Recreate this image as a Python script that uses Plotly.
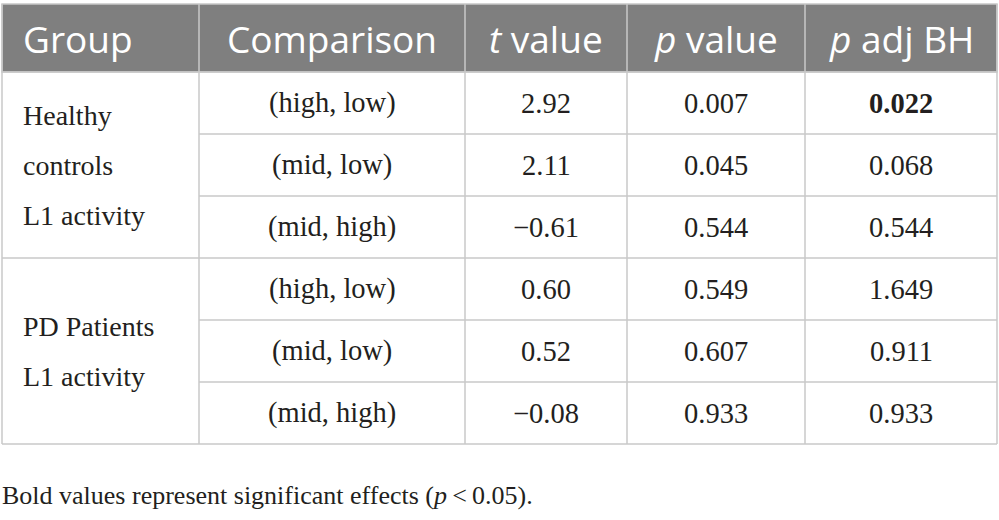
"""Post-hoc comparison table (BH adjusted) drawn with plotly shapes + annotations."""
import plotly.graph_objects as go

# ---- data -------------------------------------------------------------
headers = ["Group", "Comparison", "<i>t</i> value", "<i>p</i> value", "<i>p</i> adj BH"]
groups = [["Healthy", "controls", "L1 activity"], ["PD Patients", "L1 activity"]]
comparisons = ["(high, low)", "(mid, low)", "(mid, high)"]
t_values = [2.92, 2.11, -0.61, 0.60, 0.52, -0.08]
p_values = [0.007, 0.045, 0.544, 0.549, 0.607, 0.933]
p_adj = [0.022, 0.068, 0.544, 1.649, 0.911, 0.933]
caption = "Bold values represent significant effects (<i>p</i>\u2009<\u20090.05)."

# ---- layout constants ---------------------------------------------------
W, H = 999, 520
COL_EDGES = [2, 199, 465, 627, 805, 997]
TOP, HEAD_H, ROW_H = 4, 68, 62
LINE_SP = 50
HEAD_BG = "#7f7f7f"
GRID = "#c8c8c8"
INK = "#231f20"
SANS = "Open Sans"
SERIF = "Liberation Serif"


def fmt(v, nd):
    s = f"{v:.{nd}f}"
    return s.replace("-", "\u2212")


fig = go.Figure()
shapes, ann = [], []
x0, x1 = COL_EDGES[0], COL_EDGES[-1]
body_top = TOP + HEAD_H
n_rows = len(t_values)
body_bot = body_top + n_rows * ROW_H

# header band
shapes.append(dict(type="rect", x0=x0, x1=x1, y0=TOP, y1=body_top,
                   fillcolor=HEAD_BG, line=dict(color=GRID, width=1.5), layer="below"))
# vertical separators
for xe in COL_EDGES:
    shapes.append(dict(type="line", x0=xe, x1=xe, y0=TOP, y1=body_bot,
                       line=dict(color=GRID, width=1.5)))
# horizontal separators (inner rows skip the merged group column)
per = len(comparisons)
for i in range(n_rows + 1):
    y = body_top + i * ROW_H
    start = x0 if i % per == 0 else COL_EDGES[1]
    shapes.append(dict(type="line", x0=start, x1=x1, y0=y, y1=y,
                       line=dict(color=GRID, width=1.5)))

# header text
for j, h in enumerate(headers):
    cx = (COL_EDGES[j] + COL_EDGES[j + 1]) / 2
    ann.append(dict(x=21 if j == 0 else cx, y=TOP + HEAD_H / 2, text=h,
                    xanchor="left" if j == 0 else "center", yanchor="middle",
                    showarrow=False, font=dict(family=SANS, size=37, color="white")))

# group labels
for g, lines in enumerate(groups):
    gc = body_top + (g * per + per / 2) * ROW_H
    for k, ln in enumerate(lines):
        y = gc + (k - (len(lines) - 1) / 2) * LINE_SP
        ann.append(dict(x=21, y=y, text=ln, xanchor="left", yanchor="middle",
                        showarrow=False, font=dict(family=SERIF, size=28, color=INK)))

# body cells
for i in range(n_rows):
    cy = body_top + (i + 0.5) * ROW_H
    padj = fmt(p_adj[i], 3)
    if p_adj[i] < 0.05:
        padj = f"<b>{padj}</b>"
    cells = [comparisons[i % per], fmt(t_values[i], 2), fmt(p_values[i], 3), padj]
    for j, txt in enumerate(cells, start=1):
        cx = (COL_EDGES[j] + COL_EDGES[j + 1]) / 2
        ann.append(dict(x=cx, y=cy, text=txt, xanchor="center", yanchor="middle",
                        showarrow=False, font=dict(family=SERIF, size=28.5, color=INK)))

# caption
ann.append(dict(x=0, y=495, text=caption, xanchor="left", yanchor="middle",
                showarrow=False, font=dict(family=SERIF, size=26, color=INK)))

fig.update_layout(width=W, height=H, margin=dict(l=0, r=0, t=0, b=0),
                  paper_bgcolor="white", plot_bgcolor="white",
                  shapes=shapes, annotations=ann, showlegend=False,
                  xaxis=dict(range=[0, W], visible=False, fixedrange=True),
                  yaxis=dict(range=[H, 0], visible=False, fixedrange=True))
fig.write_html("out.html", config=dict(displayModeBar=False),
               post_script="document.body.style.margin='0';"
                           "document.body.style.overflow='hidden';")
